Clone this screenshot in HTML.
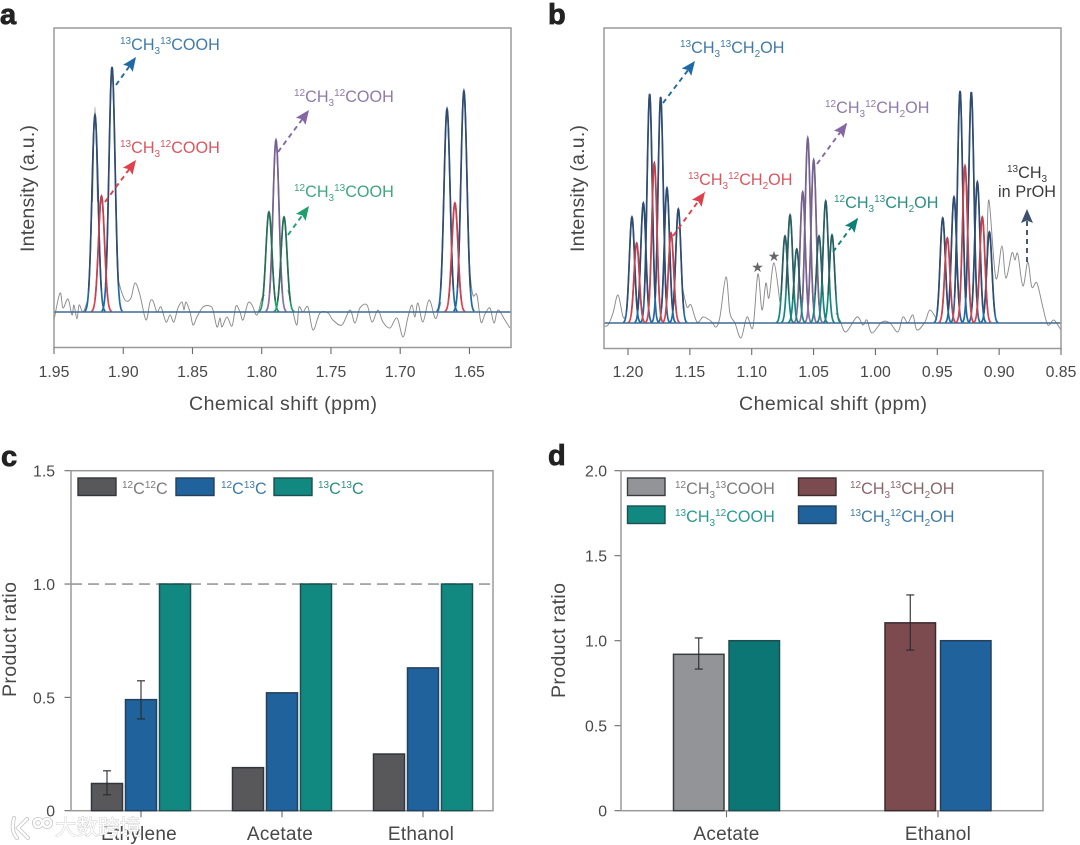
<!DOCTYPE html>
<html lang="en">
<head>
<meta charset="utf-8">
<title>NMR spectra and product ratios</title>
<style>
html,body{margin:0;padding:0;background:#fff;width:1080px;height:845px;overflow:hidden}
svg{display:block;font-family:"Liberation Sans","Noto Sans CJK SC",sans-serif;filter:blur(.35px)}
.frame{fill:none;stroke:#9a9a9a;stroke-width:1.5}
.tick{stroke:#6a6a6a;stroke-width:1.1}
.ticklabel{font-size:15.8px;fill:#484848}
.title{font-size:19.5px;fill:#484848}
.catlabel{font-size:19px;fill:#484848;letter-spacing:.25px}
.letter{font-size:29px;font-weight:bold;fill:#222;stroke:#222;stroke-width:.8}
.chem{font-size:16.2px}
.leg{font-size:16.2px}
.dash{stroke-width:1.9;stroke-dasharray:5 4;fill:none}
</style>
</head>
<body>
<svg id="fig" xmlns="http://www.w3.org/2000/svg" width="1080" height="845" viewBox="0 0 1080 845">
<defs>
<clipPath id="clipA"><rect x="54" y="28" width="457" height="320"/></clipPath>
<clipPath id="clipB"><rect x="604" y="28" width="457" height="321"/></clipPath>
<marker id="hBlue" markerUnits="userSpaceOnUse" markerWidth="15" markerHeight="13" refX="14" refY="6.5" orient="auto"><path d="M0 0.5L14 6.5L0 12.5L2.5 6.5z" fill="#1f6aa5"/></marker>
<marker id="hRed" markerUnits="userSpaceOnUse" markerWidth="15" markerHeight="13" refX="14" refY="6.5" orient="auto"><path d="M0 0.5L14 6.5L0 12.5L2.5 6.5z" fill="#e0404c"/></marker>
<marker id="hPurple" markerUnits="userSpaceOnUse" markerWidth="15" markerHeight="13" refX="14" refY="6.5" orient="auto"><path d="M0 0.5L14 6.5L0 12.5L2.5 6.5z" fill="#8467a5"/></marker>
<marker id="hGreen" markerUnits="userSpaceOnUse" markerWidth="15" markerHeight="13" refX="14" refY="6.5" orient="auto"><path d="M0 0.5L14 6.5L0 12.5L2.5 6.5z" fill="#1f9e6e"/></marker>
<marker id="hTeal" markerUnits="userSpaceOnUse" markerWidth="15" markerHeight="13" refX="14" refY="6.5" orient="auto"><path d="M0 0.5L14 6.5L0 12.5L2.5 6.5z" fill="#0f7f78"/></marker>
<marker id="hNavy" markerUnits="userSpaceOnUse" markerWidth="15" markerHeight="13" refX="14" refY="6.5" orient="auto"><path d="M0 0.5L14 6.5L0 12.5L2.5 6.5z" fill="#3f5070"/></marker>
</defs>

<!-- panel letters -->
<text class="letter" x="0" y="24">a</text>
<text class="letter" x="548" y="24">b</text>
<text class="letter" x="1" y="466">c</text>
<text class="letter" x="548" y="465">d</text>

<!-- axis titles -->
<text class="title" transform="translate(34,252) rotate(-90)" textLength="127" lengthAdjust="spacing">Intensity (a.u.)</text>
<text class="title" transform="translate(584,252) rotate(-90)" textLength="127" lengthAdjust="spacing">Intensity (a.u.)</text>
<text class="title" x="189" y="410" textLength="188" lengthAdjust="spacing">Chemical shift (ppm)</text>
<text class="title" x="739" y="410" textLength="188" lengthAdjust="spacing">Chemical shift (ppm)</text>
<text class="title" transform="translate(16,697) rotate(-90)" textLength="115" lengthAdjust="spacing">Product ratio</text>
<text class="title" transform="translate(565,698) rotate(-90)" textLength="115" lengthAdjust="spacing">Product ratio</text>

<g id="panelA"></g>
<g id="panelB"></g>
<g id="panelC"></g>
<g id="panelD"></g>

<!-- panel a annotations -->
<text class="chem" x="120" y="50" fill="#3f7ba8"><tspan font-size="10" dy="-6">13</tspan><tspan dy="6">CH</tspan><tspan font-size="10" dy="4">3</tspan><tspan font-size="10" dy="-10">13</tspan><tspan dy="6">COOH</tspan></text>
<text class="chem" x="120" y="153" fill="#d9565f"><tspan font-size="10" dy="-6">13</tspan><tspan dy="6">CH</tspan><tspan font-size="10" dy="4">3</tspan><tspan font-size="10" dy="-10">12</tspan><tspan dy="6">COOH</tspan></text>
<text class="chem" x="294" y="102" fill="#8f7aaa"><tspan font-size="10" dy="-6">12</tspan><tspan dy="6">CH</tspan><tspan font-size="10" dy="4">3</tspan><tspan font-size="10" dy="-10">12</tspan><tspan dy="6">COOH</tspan></text>
<text class="chem" x="294" y="197" fill="#3fa67f"><tspan font-size="10" dy="-6">12</tspan><tspan dy="6">CH</tspan><tspan font-size="10" dy="4">3</tspan><tspan font-size="10" dy="-10">13</tspan><tspan dy="6">COOH</tspan></text>
<line class="dash" x1="116" y1="85" x2="136" y2="57" stroke="#1f6aa5" marker-end="url(#hBlue)"/>
<line class="dash" x1="105" y1="202" x2="136" y2="160" stroke="#e0404c" marker-end="url(#hRed)"/>
<line class="dash" x1="278" y1="152" x2="309" y2="110" stroke="#8467a5" marker-end="url(#hPurple)"/>
<line class="dash" x1="288" y1="235" x2="309" y2="206" stroke="#1f9e6e" marker-end="url(#hGreen)"/>

<!-- panel b annotations -->
<text class="chem" x="680" y="53" fill="#3f7ba8"><tspan font-size="10" dy="-6">13</tspan><tspan dy="6">CH</tspan><tspan font-size="10" dy="4">3</tspan><tspan font-size="10" dy="-10">13</tspan><tspan dy="6">CH</tspan><tspan font-size="10" dy="4">2</tspan><tspan dy="-4">OH</tspan></text>
<text class="chem" x="688" y="185" fill="#d9565f"><tspan font-size="10" dy="-6">13</tspan><tspan dy="6">CH</tspan><tspan font-size="10" dy="4">3</tspan><tspan font-size="10" dy="-10">12</tspan><tspan dy="6">CH</tspan><tspan font-size="10" dy="4">2</tspan><tspan dy="-4">OH</tspan></text>
<text class="chem" x="825" y="113" fill="#8f7aaa"><tspan font-size="10" dy="-6">12</tspan><tspan dy="6">CH</tspan><tspan font-size="10" dy="4">3</tspan><tspan font-size="10" dy="-10">12</tspan><tspan dy="6">CH</tspan><tspan font-size="10" dy="4">2</tspan><tspan dy="-4">OH</tspan></text>
<text class="chem" x="834" y="208" fill="#2a8f84"><tspan font-size="10" dy="-6">12</tspan><tspan dy="6">CH</tspan><tspan font-size="10" dy="4">3</tspan><tspan font-size="10" dy="-10">13</tspan><tspan dy="6">CH</tspan><tspan font-size="10" dy="4">2</tspan><tspan dy="-4">OH</tspan></text>
<text class="chem" x="1007" y="178" fill="#3a3a3a"><tspan font-size="10" dy="-6">13</tspan><tspan dy="6">CH</tspan><tspan font-size="10" dy="4">3</tspan></text>
<text class="chem" x="998" y="197" fill="#3a3a3a" textLength="58" lengthAdjust="spacing">in PrOH</text>
<line class="dash" x1="663" y1="103" x2="695" y2="61" stroke="#1f6aa5" marker-end="url(#hBlue)"/>
<line class="dash" x1="673" y1="236" x2="705" y2="192" stroke="#e0404c" marker-end="url(#hRed)"/>
<line class="dash" x1="817" y1="164" x2="847" y2="123" stroke="#8467a5" marker-end="url(#hPurple)"/>
<line class="dash" x1="833" y1="252" x2="858" y2="218" stroke="#0f7f78" marker-end="url(#hTeal)"/>
<line class="dash" x1="1027" y1="262" x2="1027" y2="209" stroke="#3f5070" marker-end="url(#hNavy)"/>
<text x="757.5" y="272" font-size="14" text-anchor="middle" fill="#666" style="font-family:'DejaVu Sans',sans-serif">★</text>
<text x="774" y="261" font-size="14" text-anchor="middle" fill="#666" style="font-family:'DejaVu Sans',sans-serif">★</text>

<!-- panel c legend -->
<g>
<rect x="78" y="478" width="38" height="17.5" fill="#58585a" stroke="#30363a" stroke-width="1.4"/>
<text class="leg" x="122" y="494" fill="#7b7b7b"><tspan font-size="10" dy="-6">12</tspan><tspan dy="6">C</tspan><tspan font-size="10" dy="-6">12</tspan><tspan dy="6">C</tspan></text>
<rect x="176" y="478" width="38" height="17.5" fill="#1f629c" stroke="#24405a" stroke-width="1.4"/>
<text class="leg" x="221" y="494" fill="#3f7ba8"><tspan font-size="10" dy="-6">12</tspan><tspan dy="6">C</tspan><tspan font-size="10" dy="-6">13</tspan><tspan dy="6">C</tspan></text>
<rect x="274" y="478" width="38" height="17.5" fill="#118880" stroke="#1c4f50" stroke-width="1.4"/>
<text class="leg" x="318" y="494" fill="#2a8f84"><tspan font-size="10" dy="-6">13</tspan><tspan dy="6">C</tspan><tspan font-size="10" dy="-6">13</tspan><tspan dy="6">C</tspan></text>
</g>

<!-- panel d legend -->
<g>
<rect x="627.5" y="478" width="37.5" height="17.5" fill="#929497" stroke="#3a3d40" stroke-width="1.4"/>
<text class="leg" x="675" y="494" fill="#7b7b7b"><tspan font-size="10" dy="-6">12</tspan><tspan dy="6">CH</tspan><tspan font-size="10" dy="4">3</tspan><tspan font-size="10" dy="-10">13</tspan><tspan dy="6">COOH</tspan></text>
<rect x="627.5" y="506" width="37.5" height="17.5" fill="#118880" stroke="#1c4f50" stroke-width="1.4"/>
<text class="leg" x="675" y="522" fill="#2a9a90"><tspan font-size="10" dy="-6">13</tspan><tspan dy="6">CH</tspan><tspan font-size="10" dy="4">3</tspan><tspan font-size="10" dy="-10">12</tspan><tspan dy="6">COOH</tspan></text>
<rect x="798.5" y="478" width="37.5" height="17.5" fill="#7b4b50" stroke="#3a2a2e" stroke-width="1.4"/>
<text class="leg" x="850" y="494" fill="#8a666a"><tspan font-size="10" dy="-6">12</tspan><tspan dy="6">CH</tspan><tspan font-size="10" dy="4">3</tspan><tspan font-size="10" dy="-10">13</tspan><tspan dy="6">CH</tspan><tspan font-size="10" dy="4">2</tspan><tspan dy="-4">OH</tspan></text>
<rect x="798.5" y="506" width="37.5" height="17.5" fill="#1f629c" stroke="#24405a" stroke-width="1.4"/>
<text class="leg" x="850" y="522" fill="#3f7ba8"><tspan font-size="10" dy="-6">13</tspan><tspan dy="6">CH</tspan><tspan font-size="10" dy="4">3</tspan><tspan font-size="10" dy="-10">12</tspan><tspan dy="6">CH</tspan><tspan font-size="10" dy="4">2</tspan><tspan dy="-4">OH</tspan></text>
</g>

<!-- watermark drawn after the script-built panels -->
<g id="watermark"></g>

<script>
// ---------- Panel a data ----------
const aTicks = [1.95, 1.90, 1.85, 1.80, 1.75, 1.70, 1.65];
const aBlueShift = [1.9204, 1.9081, 1.6662, 1.6540];
const aBlueHeight = [197, 245, 203, 221];
const aRedShift = [1.9157, 1.6605];
const aRedHeight = [116, 109];
const aGreenShift = [1.7948, 1.7839];
const aGreenHeight = [100, 95];
const aPurpleShift = [1.7897];
const aPurpleHeight = [172];
const aRawShift = [1.9500,1.9457,1.9435,1.9399,1.9370,1.9356,1.9334,1.9319,1.9291,1.9262,1.9247,null,
  1.9222,1.9204,1.9186,null,
  1.9049,1.9038,1.9009,1.8980,1.8944,1.8915,1.8879,1.8836,1.8807,1.8785,1.8756,1.8727,1.8691,1.8662,1.8634,1.8605,1.8576,1.8561,1.8547,1.8518,1.8496,1.8468,1.8424,1.8374,1.8352,1.8323,1.8301,1.8287,1.8251,1.8215,1.8186,1.8157,1.8135,1.8099,1.8070,1.8034,1.7998,1.7977,null,
  1.7811,1.7774,1.7746,1.7731,1.7702,1.7666,1.7630,1.7579,1.7521,1.7486,1.7421,1.7363,1.7327,1.7291,1.7240,1.7204,1.7161,1.7125,1.7074,1.7023,1.6980,1.6944,1.6915,1.6894,1.6872,1.6836,1.6792,1.6749,1.6727,1.6706,null,
  1.6504,1.6497,1.6475,1.6446,1.6417,1.6388,1.6352,1.6323,1.6294,1.6244,1.6208];
const aRawIntensity = [-8,19,4,13,-3,7,-7,7,0,10,22,null,
  110,205,110,null,
  70,35,19,11,14,29,17,-8,10,11,0,5,-10,-3,-10,4,10,2,10,0,-13,-5,5,6,2,-15,-6,-15,-5,-14,6,0,-8,9,7,-3,14,17,null,
  22,0,-13,5,0,5,-18,-1,-1,-8,-13,2,-11,4,7,-10,2,-10,-16,-6,-25,-5,7,-5,9,-10,12,-6,-1,10,null,
  70,42,17,17,-10,-2,4,-11,2,-8,-16];

// ---------- Panel b data ----------
const bTicks = [1.20, 1.15, 1.10, 1.05, 1.00, 0.95, 0.90, 0.85];
const bBlueShift = [1.1968,1.1876,1.1825,1.1736,1.1685,1.1593,0.9456,0.9365,0.9316,0.9225,0.9176,0.9079];
const bBlueHeight = [106,120,229,226,135,114,105,126,232,231,141,91];
const bRedShift = [1.1930,1.1787,1.1652,0.9419,0.9276,0.9136];
const bRedHeight = [80,160,90,85,157,106];
const bTealShift = [1.0731,1.0690,1.0636,1.0456,1.0402,1.0351];
const bTealHeight = [87,108,74,87,122,88];
const bPurpleShift = [1.0588,1.0547,1.0499];
const bPurpleHeight = [131,185,163];
const bRawShift = [1.2194,1.2162,1.2121,1.2081,1.2040,1.2016,null,
  1.1556,1.1523,1.1491,1.1442,1.1394,1.1354,1.1321,1.1289,1.1257,1.1208,1.1176,1.1135,1.1087,1.1038,1.0990,1.0950,1.0917,1.0885,1.0861,1.0820,1.0772,null,
  1.0319,1.0287,1.0239,1.0150,1.0101,1.0069,1.0028,0.9948,0.9883,0.9818,0.9778,0.9738,0.9697,0.9665,0.9600,0.9560,0.9503,null,
  0.9100,0.9083,0.9027,0.8978,0.8946,0.8897,0.8873,0.8849,0.8808,0.8768,0.8736,0.8695,0.8647,0.8606,0.8558,0.8501];
const bRawIntensity = [-3,-2,10,28,6,8,null,
  33,16,18,1,6,4,1,-4,6,46,10,0,-15,6,-4,49,13,40,25,60,21,null,
  10,3,-9,6,-2,3,-10,1,0,-9,6,0,8,-7,1,13,3,null,
  60,123,45,77,45,70,63,69,37,61,36,40,16,-2,3,-7];

// ---------- Panel c data ----------
const cCategories = ['Ethylene','Acetate','Ethanol'];
const cTicks = ['0','0.5','1.0','1.5'];
const cTickValues = [0,0.5,1,1.5];
const c12C12C = [0.12,0.19,0.25];
const c12C13C = [0.49,0.52,0.63];
const c13C13C = [1,1,1];
const c12C12CErrLow = [0.07,null,null];
const c12C12CErrHigh = [0.176,null,null];
const c12C13CErrLow = [0.405,null,null];
const c12C13CErrHigh = [0.573,null,null];

// ---------- Panel d data ----------
const dCategories = ['Acetate','Ethanol'];
const dTicks = ['0','0.5','1.0','1.5','2.0'];
const dTickValues = [0,0.5,1,1.5,2];
const dLabelled12 = [0.92,1.105];
const dLabelled13 = [1,1];
const dErrLow = [0.833,0.945];
const dErrHigh = [1.016,1.269];

// ---------- helpers ----------
const NS = 'http://www.w3.org/2000/svg';
function make(tag, parent, attrs){
  const el = document.createElementNS(NS, tag);
  for(const k in attrs){ el.setAttribute(k, attrs[k]); }
  parent.appendChild(el);
  return el;
}
function linear(d0, d1, r0, r1){
  return function(v){ return r0 + (v - d0) * (r1 - r0) / (d1 - d0); };
}
function gaussian(v, c, h, s){
  const t = (v - c) / s;
  return h * Math.exp(-0.5 * t * t);
}
// Catmull-Rom smoothing through one run of trace points
function smoothRun(pts){
  let d = 'M' + pts[0][0].toFixed(1) + ' ' + pts[0][1].toFixed(1);
  for(let i = 0; i < pts.length - 1; i++){
    const p0 = pts[Math.max(i - 1, 0)], p1 = pts[i], p2 = pts[i + 1], p3 = pts[Math.min(i + 2, pts.length - 1)];
    const c1x = p1[0] + (p2[0] - p0[0]) / 6, c1y = p1[1] + (p2[1] - p0[1]) / 6;
    const c2x = p2[0] - (p3[0] - p1[0]) / 6, c2y = p2[1] - (p3[1] - p1[1]) / 6;
    d += 'C' + c1x.toFixed(1) + ' ' + c1y.toFixed(1) + ' ' + c2x.toFixed(1) + ' ' + c2y.toFixed(1) + ' ' + p2[0].toFixed(1) + ' ' + p2[1].toFixed(1);
  }
  return d;
}

function drawSpectrum(g, o){
  const x = o.x, y = o.y;
  const plot = make('g', g, {'clip-path':'url(#' + o.clip + ')'});
  
  

  // raw trace, null breaks the trace where the fits cover it
  let d = '', run = [];
  for(let i = 0; i <= o.rawShift.length; i++){
    if(i === o.rawShift.length || o.rawShift[i] === null){
      if(run.length){ d += smoothRun(run); }
      run = [];
      continue;
    }
    run.push([x(o.rawShift[i]), y(o.rawIntensity[i])]);
  }
  const raw = make('path', plot, {d:d, fill:'none', stroke:'#8a8a8a', 'stroke-width':'0.95', 'stroke-linejoin':'round'});
  
  

  o.series.forEach(function(s){
    s.shift.forEach(function(c, i){
      const h = s.height[i];
      let full = '', top = '', topPen = false;
      for(let t = -3.4; t <= 3.4001; t += 0.1){
        const p = c + t * o.sigma;
        const v = gaussian(p, c, h, o.sigma);
        const px = x(p).toFixed(2), py = y(v).toFixed(2);
        full += (t === -3.4 ? 'M' : 'L') + px + ' ' + py;
        if(v > h * s.cut){
          top += (topPen ? 'L' : 'M') + px + ' ' + py;
          topPen = true;
        }
      }
      const base = make('path', plot, {d:full, fill:'none', stroke:s.color, 'stroke-width':'1.7'});
      
      
      const upper = make('path', plot, {d:top, fill:'none', stroke:s.topColor, 'stroke-width':'1.5'});
      
      
    });
  });

  const bl = make('line', plot, {x1:o.left, x2:o.right, y1:y(0), y2:y(0), stroke:'#3f6a93', 'stroke-width':'1.6'});
  
  

  const fr = make('rect', g, {x:o.left, y:o.top, width:o.right - o.left, height:o.bottom - o.top, class:'frame'});
  
  

  o.ticks.forEach(function(t){
    const tk = make('line', g, {x1:x(t), x2:x(t), y1:o.bottom, y2:o.bottom + 6.5, class:'tick'});
    
    
    const lb = make('text', g, {x:x(t), y:377, class:'ticklabel', 'text-anchor':'middle'});
    
    
    lb.textContent = t.toFixed(2);
  });
}

function drawBars(g, o){
  const y = o.y;
  o.tickValues.forEach(function(v, i){
    const tk = make('line', g, {x1:o.left - 6.5, x2:o.left, y1:y(v), y2:y(v), class:'tick'});
    
    
    const lb = make('text', g, {x:o.left - o.labelGap, y:y(v) + 6, class:'ticklabel', 'text-anchor':'end'});
    
    
    lb.textContent = o.tickLabels[i];
  });
  if(o.reference !== null){
    const rf = make('line', g, {x1:o.left, x2:o.right, y1:y(o.reference), y2:y(o.reference), stroke:'#9a9a9a', 'stroke-width':'1.6', 'stroke-dasharray':'11 6'});
    
    
  }
  const fr = make('rect', g, {x:o.left, y:o.top, width:o.right - o.left, height:o.bottom - o.top, class:'frame'});
  
  

  o.categories.forEach(function(name, i){
    const cx = o.center(i);
    const tk = make('line', g, {x1:cx, x2:cx, y1:o.bottom, y2:o.bottom + 6.5, class:'tick'});
    
    
    const lb = make('text', g, {x:cx + o.labelShift, y:840, class:'catlabel', 'text-anchor':'middle'});
    
    
    lb.textContent = name;

    o.series[i].forEach(function(s, j){
      const bx = cx + (j - (o.series[i].length - 1) / 2) * o.step - o.barWidth / 2;
      const rc = make('rect', g, {x:bx, y:y(s.value), width:o.barWidth, height:y(0) - y(s.value), fill:s.color, stroke:s.edge, 'stroke-width':'1.5'});
      
      
      if(s.low !== null && s.low !== undefined){
        const ecx = bx + o.barWidth / 2;
        const eb = make('path', g, {d:'M' + ecx + ' ' + y(s.low) + 'V' + y(s.high) + 'M' + (ecx - 4) + ' ' + y(s.low) + 'H' + (ecx + 4) + 'M' + (ecx - 4) + ' ' + y(s.high) + 'H' + (ecx + 4), fill:'none', stroke:'#2a2a2a', 'stroke-width':'1.1'});
        
        
      }
    });
  });
}

// ---------- draw panels ----------
drawSpectrum(document.getElementById('panelA'), {
  x: linear(1.95, 1.62, 54, 511),
  y: linear(0, 100, 312, 212),
  clip: 'clipA', sigma: 0.0022, left: 54, right: 511, top: 28, bottom: 347.5,
  ticks: aTicks, rawShift: aRawShift, rawIntensity: aRawIntensity,
  series: [
    {name:'13ch3-13cooh', shift:aBlueShift, height:aBlueHeight, color:'#1f6aa5', topColor:'#34496b', cut:0.10},
    {name:'13ch3-12cooh', shift:aRedShift, height:aRedHeight, color:'#e0404c', topColor:'#c2434f', cut:0.10},
    {name:'12ch3-12cooh', shift:aPurpleShift, height:aPurpleHeight, color:'#8a6fa8', topColor:'#75638c', cut:0.10},
    {name:'12ch3-13cooh', shift:aGreenShift, height:aGreenHeight, color:'#1f9e6e', topColor:'#2b6a54', cut:0.10}
  ]
});
drawSpectrum(document.getElementById('panelB'), {
  x: linear(1.20, 0.85, 628, 1061),
  y: linear(0, 100, 323, 223),
  clip: 'clipB', sigma: 0.0021, left: 604, right: 1061, top: 28, bottom: 348.5,
  ticks: bTicks, rawShift: bRawShift, rawIntensity: bRawIntensity,
  series: [
    {name:'13ch3-13ch2oh', shift:bBlueShift, height:bBlueHeight, color:'#1f6aa5', topColor:'#34496b', cut:0.10},
    {name:'13ch3-12ch2oh', shift:bRedShift, height:bRedHeight, color:'#e0404c', topColor:'#c2434f', cut:0.10},
    {name:'12ch3-12ch2oh', shift:bPurpleShift, height:bPurpleHeight, color:'#8a6fa8', topColor:'#75638c', cut:0.10},
    {name:'12ch3-13ch2oh', shift:bTealShift, height:bTealHeight, color:'#15877d', topColor:'#2f5a60', cut:0.30}
  ]
});
drawBars(document.getElementById('panelC'), {
  y: linear(0, 1.5, 810.7, 470.7),
  left: 71, right: 493, top: 470.7, bottom: 810.7,
  labelGap: 16, labelShift: -2, reference: 1, barWidth: 31, step: 34,
  center: linear(0, 2, 141, 423),
  categories: cCategories, tickValues: cTickValues, tickLabels: cTicks,
  series: cCategories.map(function(_, i){
    return [
      {name:'12c12c', value:c12C12C[i], color:'#58585a', edge:'#30363a', low:c12C12CErrLow[i], high:c12C12CErrHigh[i]},
      {name:'12c13c', value:c12C13C[i], color:'#1f629c', edge:'#24405a', low:c12C13CErrLow[i], high:c12C13CErrHigh[i]},
      {name:'13c13c', value:c13C13C[i], color:'#118880', edge:'#1c4f50'}
    ];
  })
});
drawBars(document.getElementById('panelD'), {
  y: linear(0, 2, 810.7, 470.7),
  left: 621, right: 1043, top: 470.7, bottom: 810.7,
  labelGap: 14, labelShift: 0, reference: null, barWidth: 50.5, step: 55.5,
  center: linear(0, 1, 726.5, 938),
  categories: dCategories, tickValues: dTickValues, tickLabels: dTicks,
  series: [
    [
      {name:'12ch3-13cooh', value:dLabelled12[0], color:'#929497', edge:'#3a3d40', low:dErrLow[0], high:dErrHigh[0]},
      {name:'13ch3-12cooh', value:dLabelled13[0], color:'#0b7673', edge:'#1c4f50'}
    ],
    [
      {name:'12ch3-13ch2oh', value:dLabelled12[1], color:'#7b4b50', edge:'#3a2a2e', low:dErrLow[1], high:dErrHigh[1]},
      {name:'13ch3-12ch2oh', value:dLabelled13[1], color:'#1f629c', edge:'#24405a'}
    ]
  ]
});

// ---------- watermark ----------
(function(){
  const w = document.getElementById('watermark');
  const logoPath = 'M14 818C12 826 12 832 17 838M27 819L18 828L28 838M38 819a4 4 0 1 0 .1 0M47 819a4 4 0 1 0 .1 0';
  const halo = make('path', w, {d:logoPath, fill:'none', stroke:'#c4c4c4', 'stroke-width':'4', 'stroke-linecap':'round'});
  
  
  const logo = make('path', w, {d:logoPath, fill:'none', stroke:'#ffffff', 'stroke-width':'2.4', 'stroke-linecap':'round'});
  
  
  const tx = document.createElementNS(NS, 'text');
  tx.setAttribute('x', '55');
  tx.setAttribute('y', '835');
  tx.setAttribute('font-size', '21.5');
  tx.setAttribute('fill', '#ffffff');
  tx.setAttribute('stroke', '#bdbdbd');
  tx.setAttribute('stroke-width', '0.7');
  tx.setAttribute('paint-order', 'stroke');
  
  
  tx.textContent = '大数跨境';
  w.appendChild(tx);
})();
</script>
</svg>
</body>
</html>
